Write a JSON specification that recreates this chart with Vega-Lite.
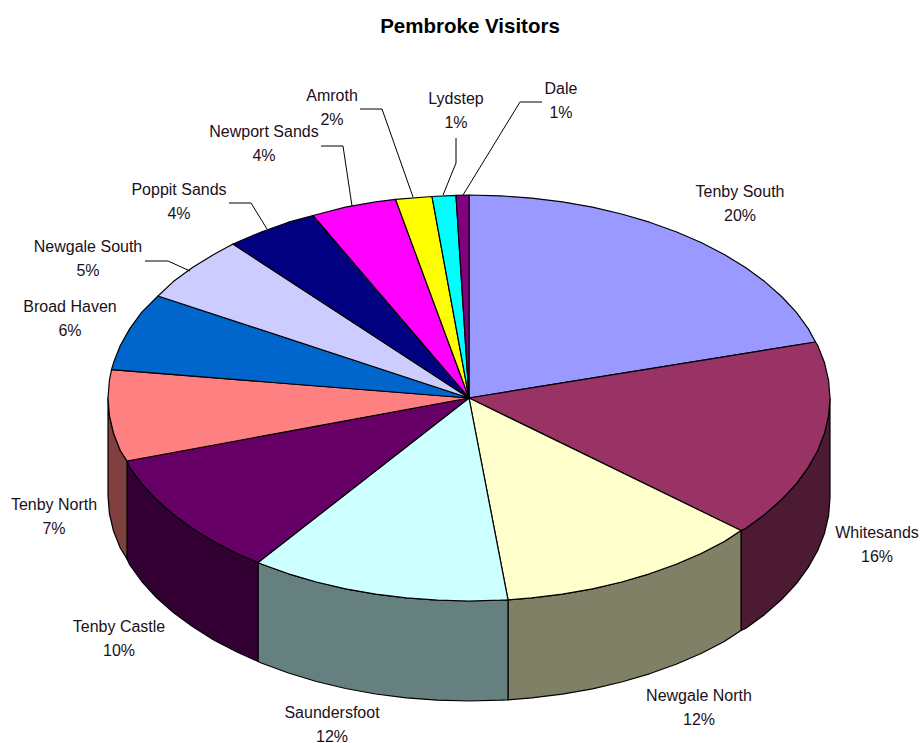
{
"$schema":"https://vega.github.io/schema/vega-lite/v6.json",
"width":924,"height":743,"padding":0,"autosize":{"type":"none"},
"background":"white",
"view":{"stroke":null},
"title":{"text":"Pembroke Visitors","anchor":"middle","frame":"group","offset":-33,"dy":4,"dx":8,"font":"Liberation Sans","fontSize":20.5,"fontWeight":"bold","color":"#000000"},
"datasets":{
"sides":[
{"shape":"Whitesands side","i":1,"x":830,"y":398},{"shape":"Whitesands side","i":2,"x":828.6,"y":415.7},{"shape":"Whitesands side","i":3,"x":824.5,"y":433.2},{"shape":"Whitesands side","i":4,"x":817.7,"y":450.5},{"shape":"Whitesands side","i":5,"x":808.2,"y":467.4},{"shape":"Whitesands side","i":6,"x":796.2,"y":483.8},{"shape":"Whitesands side","i":7,"x":781.6,"y":499.5},{"shape":"Whitesands side","i":8,"x":764.7,"y":514.4},{"shape":"Whitesands side","i":9,"x":745.5,"y":528.5},{"shape":"Whitesands side","i":10,"x":741,"y":530.5},{"shape":"Whitesands side","i":11,"x":741,"y":630.5},{"shape":"Whitesands side","i":12,"x":745.5,"y":628.5},{"shape":"Whitesands side","i":13,"x":764.7,"y":614.4},{"shape":"Whitesands side","i":14,"x":781.6,"y":599.5},{"shape":"Whitesands side","i":15,"x":796.2,"y":583.8},{"shape":"Whitesands side","i":16,"x":808.2,"y":567.4},{"shape":"Whitesands side","i":17,"x":817.7,"y":550.5},{"shape":"Whitesands side","i":18,"x":824.5,"y":533.2},{"shape":"Whitesands side","i":19,"x":828.6,"y":515.7},{"shape":"Whitesands side","i":20,"x":830,"y":498},{"shape":"Whitesands side","i":21,"x":830,"y":398},
{"shape":"Newgale North side","i":1,"x":741,"y":530.5},{"shape":"Newgale North side","i":2,"x":724.3,"y":541.5},{"shape":"Newgale North side","i":3,"x":701.1,"y":553.5},{"shape":"Newgale North side","i":4,"x":676.1,"y":564.3},{"shape":"Newgale North side","i":5,"x":649.5,"y":573.8},{"shape":"Newgale North side","i":6,"x":621.6,"y":582},{"shape":"Newgale North side","i":7,"x":592.5,"y":588.8},{"shape":"Newgale North side","i":8,"x":562.4,"y":594.1},{"shape":"Newgale North side","i":9,"x":531.7,"y":597.9},{"shape":"Newgale North side","i":10,"x":508,"y":599.8},{"shape":"Newgale North side","i":11,"x":508,"y":699.8},{"shape":"Newgale North side","i":12,"x":531.7,"y":697.9},{"shape":"Newgale North side","i":13,"x":562.4,"y":694.1},{"shape":"Newgale North side","i":14,"x":592.5,"y":688.8},{"shape":"Newgale North side","i":15,"x":621.6,"y":682},{"shape":"Newgale North side","i":16,"x":649.5,"y":673.8},{"shape":"Newgale North side","i":17,"x":676.1,"y":664.3},{"shape":"Newgale North side","i":18,"x":701.1,"y":653.5},{"shape":"Newgale North side","i":19,"x":724.3,"y":641.5},{"shape":"Newgale North side","i":20,"x":741,"y":630.5},{"shape":"Newgale North side","i":21,"x":741,"y":530.5},
{"shape":"Saundersfoot side","i":1,"x":508,"y":599.8},{"shape":"Saundersfoot side","i":2,"x":500.5,"y":600.2},{"shape":"Saundersfoot side","i":3,"x":469,"y":601},{"shape":"Saundersfoot side","i":4,"x":437.5,"y":600.2},{"shape":"Saundersfoot side","i":5,"x":406.3,"y":597.9},{"shape":"Saundersfoot side","i":6,"x":375.6,"y":594.1},{"shape":"Saundersfoot side","i":7,"x":345.5,"y":588.8},{"shape":"Saundersfoot side","i":8,"x":316.4,"y":582},{"shape":"Saundersfoot side","i":9,"x":288.5,"y":573.8},{"shape":"Saundersfoot side","i":10,"x":261.9,"y":564.3},{"shape":"Saundersfoot side","i":11,"x":258,"y":562.5},{"shape":"Saundersfoot side","i":12,"x":258,"y":661.5},{"shape":"Saundersfoot side","i":13,"x":261.9,"y":663.3},{"shape":"Saundersfoot side","i":14,"x":288.5,"y":673},{"shape":"Saundersfoot side","i":15,"x":316.4,"y":681.5},{"shape":"Saundersfoot side","i":16,"x":345.5,"y":688.5},{"shape":"Saundersfoot side","i":17,"x":375.6,"y":694},{"shape":"Saundersfoot side","i":18,"x":406.3,"y":697.9},{"shape":"Saundersfoot side","i":19,"x":437.5,"y":700.2},{"shape":"Saundersfoot side","i":20,"x":469,"y":701},{"shape":"Saundersfoot side","i":21,"x":500.5,"y":700.2},{"shape":"Saundersfoot side","i":22,"x":508,"y":699.8},{"shape":"Saundersfoot side","i":23,"x":508,"y":599.8},
{"shape":"Tenby Castle side","i":1,"x":258,"y":562.5},{"shape":"Tenby Castle side","i":2,"x":236.9,"y":553.5},{"shape":"Tenby Castle side","i":3,"x":213.7,"y":541.5},{"shape":"Tenby Castle side","i":4,"x":192.5,"y":528.5},{"shape":"Tenby Castle side","i":5,"x":173.3,"y":514.4},{"shape":"Tenby Castle side","i":6,"x":156.4,"y":499.5},{"shape":"Tenby Castle side","i":7,"x":141.8,"y":483.8},{"shape":"Tenby Castle side","i":8,"x":129.8,"y":467.4},{"shape":"Tenby Castle side","i":9,"x":127,"y":461},{"shape":"Tenby Castle side","i":10,"x":127,"y":559},{"shape":"Tenby Castle side","i":11,"x":129.8,"y":565},{"shape":"Tenby Castle side","i":12,"x":141.8,"y":581.5},{"shape":"Tenby Castle side","i":13,"x":156.4,"y":597.5},{"shape":"Tenby Castle side","i":14,"x":173.3,"y":612.5},{"shape":"Tenby Castle side","i":15,"x":192.5,"y":626.5},{"shape":"Tenby Castle side","i":16,"x":213.7,"y":640},{"shape":"Tenby Castle side","i":17,"x":236.9,"y":652},{"shape":"Tenby Castle side","i":18,"x":258,"y":661.5},{"shape":"Tenby Castle side","i":19,"x":258,"y":562.5},
{"shape":"Tenby North side","i":1,"x":127,"y":461},{"shape":"Tenby North side","i":2,"x":120.3,"y":450.5},{"shape":"Tenby North side","i":3,"x":113.5,"y":433.2},{"shape":"Tenby North side","i":4,"x":109.4,"y":415.7},{"shape":"Tenby North side","i":5,"x":108,"y":398},{"shape":"Tenby North side","i":6,"x":108,"y":496},{"shape":"Tenby North side","i":7,"x":109.4,"y":513.5},{"shape":"Tenby North side","i":8,"x":113.5,"y":531},{"shape":"Tenby North side","i":9,"x":120.3,"y":548},{"shape":"Tenby North side","i":10,"x":127,"y":559},{"shape":"Tenby North side","i":11,"x":127,"y":461}
],
"tops":[
{"shape":"Tenby South","i":0,"x":469,"y":398},{"shape":"Tenby South","i":1,"x":469,"y":195},{"shape":"Tenby South","i":2,"x":500.5,"y":195.8},{"shape":"Tenby South","i":3,"x":531.7,"y":198.1},{"shape":"Tenby South","i":4,"x":562.4,"y":201.9},{"shape":"Tenby South","i":5,"x":592.5,"y":207.2},{"shape":"Tenby South","i":6,"x":621.6,"y":214},{"shape":"Tenby South","i":7,"x":649.5,"y":222.2},{"shape":"Tenby South","i":8,"x":676.1,"y":231.7},{"shape":"Tenby South","i":9,"x":701.1,"y":242.5},{"shape":"Tenby South","i":10,"x":724.3,"y":254.5},{"shape":"Tenby South","i":11,"x":745.5,"y":267.5},{"shape":"Tenby South","i":12,"x":764.7,"y":281.6},{"shape":"Tenby South","i":13,"x":781.6,"y":296.5},{"shape":"Tenby South","i":14,"x":796.2,"y":312.2},{"shape":"Tenby South","i":15,"x":808.2,"y":328.6},{"shape":"Tenby South","i":16,"x":815.5,"y":342},{"shape":"Tenby South","i":17,"x":469,"y":398},
{"shape":"Whitesands","i":0,"x":469,"y":398},{"shape":"Whitesands","i":1,"x":815.5,"y":342},{"shape":"Whitesands","i":2,"x":817.7,"y":345.5},{"shape":"Whitesands","i":3,"x":824.5,"y":362.8},{"shape":"Whitesands","i":4,"x":828.6,"y":380.3},{"shape":"Whitesands","i":5,"x":830,"y":398},{"shape":"Whitesands","i":6,"x":828.6,"y":415.7},{"shape":"Whitesands","i":7,"x":824.5,"y":433.2},{"shape":"Whitesands","i":8,"x":817.7,"y":450.5},{"shape":"Whitesands","i":9,"x":808.2,"y":467.4},{"shape":"Whitesands","i":10,"x":796.2,"y":483.8},{"shape":"Whitesands","i":11,"x":781.6,"y":499.5},{"shape":"Whitesands","i":12,"x":764.7,"y":514.4},{"shape":"Whitesands","i":13,"x":745.5,"y":528.5},{"shape":"Whitesands","i":14,"x":741,"y":530.5},{"shape":"Whitesands","i":15,"x":469,"y":398},
{"shape":"Newgale North","i":0,"x":469,"y":398},{"shape":"Newgale North","i":1,"x":741,"y":530.5},{"shape":"Newgale North","i":2,"x":724.3,"y":541.5},{"shape":"Newgale North","i":3,"x":701.1,"y":553.5},{"shape":"Newgale North","i":4,"x":676.1,"y":564.3},{"shape":"Newgale North","i":5,"x":649.5,"y":573.8},{"shape":"Newgale North","i":6,"x":621.6,"y":582},{"shape":"Newgale North","i":7,"x":592.5,"y":588.8},{"shape":"Newgale North","i":8,"x":562.4,"y":594.1},{"shape":"Newgale North","i":9,"x":531.7,"y":597.9},{"shape":"Newgale North","i":10,"x":508,"y":599.8},{"shape":"Newgale North","i":11,"x":469,"y":398},
{"shape":"Saundersfoot","i":0,"x":469,"y":398},{"shape":"Saundersfoot","i":1,"x":508,"y":599.8},{"shape":"Saundersfoot","i":2,"x":500.5,"y":600.2},{"shape":"Saundersfoot","i":3,"x":469,"y":601},{"shape":"Saundersfoot","i":4,"x":437.5,"y":600.2},{"shape":"Saundersfoot","i":5,"x":406.3,"y":597.9},{"shape":"Saundersfoot","i":6,"x":375.6,"y":594.1},{"shape":"Saundersfoot","i":7,"x":345.5,"y":588.8},{"shape":"Saundersfoot","i":8,"x":316.4,"y":582},{"shape":"Saundersfoot","i":9,"x":288.5,"y":573.8},{"shape":"Saundersfoot","i":10,"x":261.9,"y":564.3},{"shape":"Saundersfoot","i":11,"x":258,"y":562.5},{"shape":"Saundersfoot","i":12,"x":469,"y":398},
{"shape":"Tenby Castle","i":0,"x":469,"y":398},{"shape":"Tenby Castle","i":1,"x":258,"y":562.5},{"shape":"Tenby Castle","i":2,"x":236.9,"y":553.5},{"shape":"Tenby Castle","i":3,"x":213.7,"y":541.5},{"shape":"Tenby Castle","i":4,"x":192.5,"y":528.5},{"shape":"Tenby Castle","i":5,"x":173.3,"y":514.4},{"shape":"Tenby Castle","i":6,"x":156.4,"y":499.5},{"shape":"Tenby Castle","i":7,"x":141.8,"y":483.8},{"shape":"Tenby Castle","i":8,"x":129.8,"y":467.4},{"shape":"Tenby Castle","i":9,"x":127,"y":461},{"shape":"Tenby Castle","i":10,"x":469,"y":398},
{"shape":"Tenby North","i":0,"x":469,"y":398},{"shape":"Tenby North","i":1,"x":127,"y":461},{"shape":"Tenby North","i":2,"x":120.3,"y":450.5},{"shape":"Tenby North","i":3,"x":113.5,"y":433.2},{"shape":"Tenby North","i":4,"x":109.4,"y":415.7},{"shape":"Tenby North","i":5,"x":108,"y":398},{"shape":"Tenby North","i":6,"x":109.4,"y":380.3},{"shape":"Tenby North","i":7,"x":111.5,"y":369.7},{"shape":"Tenby North","i":8,"x":469,"y":398},
{"shape":"Broad Haven","i":0,"x":469,"y":398},{"shape":"Broad Haven","i":1,"x":111.5,"y":369.7},{"shape":"Broad Haven","i":2,"x":113.5,"y":362.8},{"shape":"Broad Haven","i":3,"x":120.3,"y":345.5},{"shape":"Broad Haven","i":4,"x":129.8,"y":328.6},{"shape":"Broad Haven","i":5,"x":141.8,"y":312.2},{"shape":"Broad Haven","i":6,"x":158,"y":296},{"shape":"Broad Haven","i":7,"x":469,"y":398},
{"shape":"Newgale South","i":0,"x":469,"y":398},{"shape":"Newgale South","i":1,"x":158,"y":296},{"shape":"Newgale South","i":2,"x":173.3,"y":281.6},{"shape":"Newgale South","i":3,"x":192.5,"y":267.5},{"shape":"Newgale South","i":4,"x":213.7,"y":254.5},{"shape":"Newgale South","i":5,"x":233,"y":244},{"shape":"Newgale South","i":6,"x":469,"y":398},
{"shape":"Poppit Sands","i":0,"x":469,"y":398},{"shape":"Poppit Sands","i":1,"x":233,"y":244},{"shape":"Poppit Sands","i":2,"x":261.9,"y":231.7},{"shape":"Poppit Sands","i":3,"x":288.5,"y":222.2},{"shape":"Poppit Sands","i":4,"x":313,"y":215.5},{"shape":"Poppit Sands","i":5,"x":469,"y":398},
{"shape":"Newport Sands","i":0,"x":469,"y":398},{"shape":"Newport Sands","i":1,"x":313,"y":215.5},{"shape":"Newport Sands","i":2,"x":345.5,"y":207.2},{"shape":"Newport Sands","i":3,"x":375.6,"y":201.9},{"shape":"Newport Sands","i":4,"x":395.5,"y":199.3},{"shape":"Newport Sands","i":5,"x":469,"y":398},
{"shape":"Amroth","i":0,"x":469,"y":398},{"shape":"Amroth","i":1,"x":395.5,"y":199.3},{"shape":"Amroth","i":2,"x":432,"y":196.5},{"shape":"Amroth","i":3,"x":469,"y":398},
{"shape":"Lydstep","i":0,"x":469,"y":398},{"shape":"Lydstep","i":1,"x":432,"y":196.5},{"shape":"Lydstep","i":2,"x":456,"y":195.4},{"shape":"Lydstep","i":3,"x":469,"y":398},
{"shape":"Dale","i":0,"x":469,"y":398},{"shape":"Dale","i":1,"x":456,"y":195.4},{"shape":"Dale","i":2,"x":469,"y":195},{"shape":"Dale","i":3,"x":469,"y":398}
],
"leaders":[
{"name":"Newgale South","i":1,"x":145,"y":261},{"name":"Newgale South","i":2,"x":168,"y":261},{"name":"Newgale South","i":3,"x":190,"y":271},
{"name":"Poppit Sands","i":1,"x":229,"y":203},{"name":"Poppit Sands","i":2,"x":251,"y":203},{"name":"Poppit Sands","i":3,"x":267,"y":229},
{"name":"Newport Sands","i":1,"x":321,"y":146},{"name":"Newport Sands","i":2,"x":343,"y":146},{"name":"Newport Sands","i":3,"x":352,"y":206},
{"name":"Amroth","i":1,"x":360,"y":109},{"name":"Amroth","i":2,"x":382,"y":109},{"name":"Amroth","i":3,"x":413,"y":197},
{"name":"Lydstep","i":1,"x":456,"y":138},{"name":"Lydstep","i":2,"x":456,"y":163},{"name":"Lydstep","i":3,"x":443,"y":195},
{"name":"Dale","i":1,"x":542,"y":102},{"name":"Dale","i":2,"x":520,"y":102},{"name":"Dale","i":3,"x":463,"y":195}
],
"labels":[
{"name":"Tenby South","share":20,"label":"Tenby South\n20%","x":740,"y":192},
{"name":"Whitesands","share":16,"label":"Whitesands\n16%","x":877,"y":533},
{"name":"Newgale North","share":12,"label":"Newgale North\n12%","x":699,"y":696},
{"name":"Saundersfoot","share":12,"label":"Saundersfoot\n12%","x":332,"y":713},
{"name":"Tenby Castle","share":10,"label":"Tenby Castle\n10%","x":119,"y":627},
{"name":"Tenby North","share":7,"label":"Tenby North\n7%","x":54,"y":505},
{"name":"Broad Haven","share":6,"label":"Broad Haven\n6%","x":70,"y":307},
{"name":"Newgale South","share":5,"label":"Newgale South\n5%","x":88,"y":247},
{"name":"Poppit Sands","share":4,"label":"Poppit Sands\n4%","x":179,"y":190},
{"name":"Newport Sands","share":4,"label":"Newport Sands\n4%","x":264,"y":132},
{"name":"Amroth","share":2,"label":"Amroth\n2%","x":332,"y":96},
{"name":"Lydstep","share":1,"label":"Lydstep\n1%","x":456,"y":99},
{"name":"Dale","share":1,"label":"Dale\n1%","x":561,"y":89}
]
},
"layer":[
{"data":{"name":"sides"},
"mark":{"type":"line","filled":true,"stroke":"#000000","strokeWidth":1.2,"strokeJoin":"round"},
"encoding":{
"x":{"field":"x","type":"quantitative","scale":{"domain":[0,924],"nice":false,"zero":false},"axis":null},
"y":{"field":"y","type":"quantitative","scale":{"domain":[743,0],"nice":false,"zero":false},"axis":null},
"order":{"field":"i","type":"quantitative"},
"color":{"field":"shape","type":"nominal","legend":null,"scale":{
"domain":["Whitesands side","Newgale North side","Saundersfoot side","Tenby Castle side","Tenby North side","Tenby South","Whitesands","Newgale North","Saundersfoot","Tenby Castle","Tenby North","Broad Haven","Newgale South","Poppit Sands","Newport Sands","Amroth","Lydstep","Dale"],
"range":["#4D1A33","#808066","#668080","#330033","#804040","#9999FF","#993366","#FFFFCC","#CCFFFF","#660066","#FF8080","#0066CC","#CCCCFF","#000080","#FF00FF","#FFFF00","#00FFFF","#800080"]}}
}},
{"data":{"name":"tops"},
"mark":{"type":"line","filled":true,"stroke":"#000000","strokeWidth":1.2,"strokeJoin":"round"},
"encoding":{
"x":{"field":"x","type":"quantitative"},
"y":{"field":"y","type":"quantitative"},
"order":{"field":"i","type":"quantitative"},
"color":{"field":"shape","type":"nominal","legend":null}
}},
{"data":{"name":"leaders"},
"mark":{"type":"line","stroke":"#000000","strokeWidth":1},
"encoding":{
"x":{"field":"x","type":"quantitative"},
"y":{"field":"y","type":"quantitative"},
"order":{"field":"i","type":"quantitative"},
"detail":{"field":"name","type":"nominal"}
}},
{"data":{"name":"labels"},
"mark":{"type":"text","font":"Liberation Sans","fontSize":16,"lineBreak":"\n","lineHeight":24,"align":"center","baseline":"middle","color":"#1a1020"},
"encoding":{
"x":{"field":"x","type":"quantitative"},
"y":{"field":"y","type":"quantitative"},
"text":{"field":"label","type":"nominal"}
}}
]
}
